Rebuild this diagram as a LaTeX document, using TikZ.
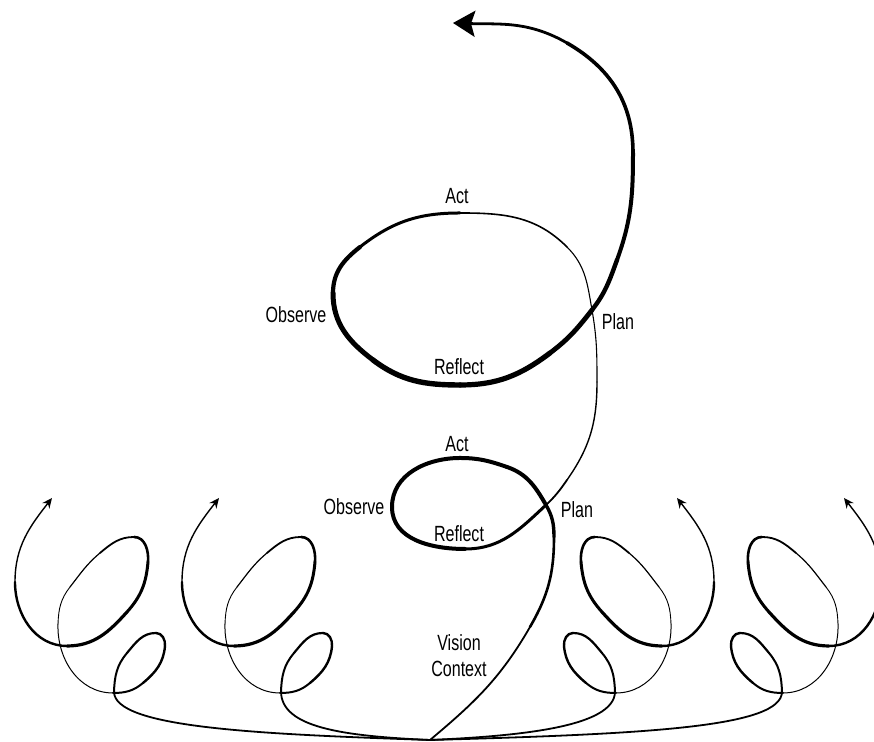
\documentclass[tikz,border=0pt]{standalone}
\usepackage{fontspec}
\newfontfamily\lblfont{Liberation Sans}[FakeStretch=0.73]
\usetikzlibrary{arrows.meta}

% one small spiral, #1 = start of its loop, #2 = 1 or -1 (mirror)
\def\spiral#1#2{
  \begin{scope}[shift={(#1)}, xscale=#2]
    \coordinate (l0) at (0,0);
    \coordinate (l1) at (13,39);
    \coordinate (l2) at (42,59);
    \coordinate (l3) at (51,46);
    \coordinate (l4) at (29,9);
    \coordinate (l5) at (-1,-1);
    \coordinate (l6) at (-56,68);
    \coordinate (l7) at (-44,105);
    \coordinate (l7b) at (-14,139);
    \coordinate (l8) at (20,155);
    \coordinate (l9) at (34,130);
    \coordinate (l10) at (13,80);
    \coordinate (l11) at (-47,46);
    \coordinate (l12) at (-99,110);
    \coordinate (l13) at (-62,194);
    \draw[pen=1.0pt] (l0) to[out=88,in=230] (l1);
    \draw[pen=1.1pt] (l1) to[out=50,in=180] (l2);
    \draw[pen=1.2pt] (l2) to[out=0,in=85] (l3);
    \draw[pen=1.2pt] (l3) to[out=-95,in=40] (l4);
    \draw[pen=1.0pt] (l4) to[out=-140,in=0] (l5);
    \draw[pen=0.5pt] (l5) to[out=180,in=-92] (l6);
    \draw[pen=0.45pt] (l6) to[out=88,in=-128] (l7);
    \draw[pen=0.6pt] (l7) to[out=52,in=-140] (l7b);
    \draw[pen=0.9pt] (l7b) to[out=40,in=180] (l8);
    \draw[pen=1.3pt] (l8) to[out=0,in=85] (l9);
    \draw[pen=1.5pt] (l9) to[out=-95,in=48] (l10);
    \draw[pen=1.6pt] (l10) to[out=-132,in=0] (l11);
    \draw[pen=1.2pt] (l11) to[out=180,in=-90] (l12);
    \draw[pen=0.7pt, -{Stealth[length=5pt,width=4.5pt]}] (l12) to[out=90,in=-128] (l13);
  \end{scope}}

\begin{document}
\begin{tikzpicture}[x=0.5pt, y=0.5pt,
    pen/.style={line width=#1, line cap=round},
    lbl/.style={font=\lblfont\fontsize{11pt}{13pt}\selectfont, anchor=base, inner sep=0pt}]
  \useasboundingbox (0,0) rectangle (874,742);

  \coordinate (o) at (430,2);

  % main spiral, lower loop
  \coordinate (m1) at (530,115);
  \coordinate (m2) at (554,205);
  \coordinate (c1) at (546,237);
  \coordinate (m4) at (507,275);
  \coordinate (m5) at (460,284);
  \coordinate (m6) at (392,235);
  \coordinate (m7) at (465,193);
  \coordinate (m8) at (567,262);
  \coordinate (m9) at (597,360);
  % upper loop
  \coordinate (c2) at (592,432);
  \coordinate (m10) at (567,495);
  \coordinate (m12) at (460,529);
  \coordinate (m13) at (360,495);
  \coordinate (m14) at (333,449);
  \coordinate (m15) at (373,382);
  \coordinate (m16) at (460,357);
  \coordinate (m17) at (550,389);
  \coordinate (m18) at (617,482);
  \coordinate (m19) at (633,589);
  \coordinate (m20) at (567,699);
  \coordinate (tip) at (453,719);

  \draw[pen=0.9pt] (o) to[out=40,in=240] (m1);
  \draw[pen=1.3pt] (m1) to[out=60,in=270] (m2);
  \draw[pen=1.7pt] (m2) to[out=90,in=300] (c1);
  \draw[pen=2.0pt] (c1) to[out=120,in=341] (m4);
  \draw[pen=2.0pt] (m4) to[out=161,in=0] (m5);
  \draw[pen=2.0pt] (m5) to[out=180,in=90] (m6);
  \draw[pen=2.0pt] (m6) to[out=270,in=180] (m7);
  \draw[pen=1.5pt] (m7) to[out=0,in=223] (c1);
  \draw[pen=0.9pt] (c1) to[out=43,in=235] (m8);
  \draw[pen=0.7pt] (m8) to[out=55,in=270] (m9);
  \draw[pen=0.55pt] (m9) to[out=90,in=280] (c2);
  \draw[pen=0.55pt] (c2) to[out=100,in=315] (m10);
  \draw[pen=0.8pt] (m10) to[out=135,in=0] (m12);
  \draw[pen=1.5pt] (m12) to[out=180,in=38] (m13);
  \draw[pen=2.1pt] (m13) to[out=218,in=90] (m14);
  \draw[pen=2.5pt] (m14) to[out=270,in=143] (m15);
  \draw[pen=2.7pt] (m15) to[out=323,in=180] (m16);
  \draw[pen=2.6pt] (m16) to[out=0,in=217] (m17);
  \draw[pen=2.4pt] (m17) to[out=37,in=232] (c2);
  \draw[pen=2.2pt] (c2) to[out=52,in=250] (m18);
  \draw[pen=2.0pt] (m18) to[out=70,in=270] (m19);
  \draw[pen=1.8pt] (m19) to[out=90,in=330] (m20);
  \draw[pen=1.4pt, -{Stealth[length=11pt,width=13pt,inset=2pt]}] (m20) to[out=150,in=358] (tip);

  % small spirals
  \coordinate (s1) at (114,50);
  \coordinate (s2) at (281,50);
  \coordinate (s3) at (615,50);
  \coordinate (s4) at (782,50);
  \draw[pen=0.9pt] (o) .. controls (250,8) and (115,15) .. (s1);
  \draw[pen=0.9pt] (o) .. controls (340,6) and (282,15) .. (s2);
  \draw[pen=0.9pt] (o) .. controls (520,6) and (614,15) .. (s3);
  \draw[pen=0.9pt] (o) .. controls (650,8) and (781,15) .. (s4);
  \spiral{s1}{1}
  \spiral{s2}{1}
  \spiral{s3}{-1}
  \spiral{s4}{-1}

  % labels
  \node[lbl] (act1) at (457,290) {Act};
  \node[lbl] (obs1) at (354,227) {Observe};
  \node[lbl] (ref1) at (459,200) {Reflect};
  \node[lbl] (plan1) at (577,224) {Plan};
  \node[lbl] (act2) at (457,538) {Act};
  \node[lbl] (obs2) at (296,419) {Observe};
  \node[lbl] (ref2) at (459,367) {Reflect};
  \node[lbl] (plan2) at (618,412) {Plan};
  \node[lbl] (vision) at (459,91) {Vision};
  \node[lbl] (context) at (459,65) {Context};
\end{tikzpicture}
\end{document}
